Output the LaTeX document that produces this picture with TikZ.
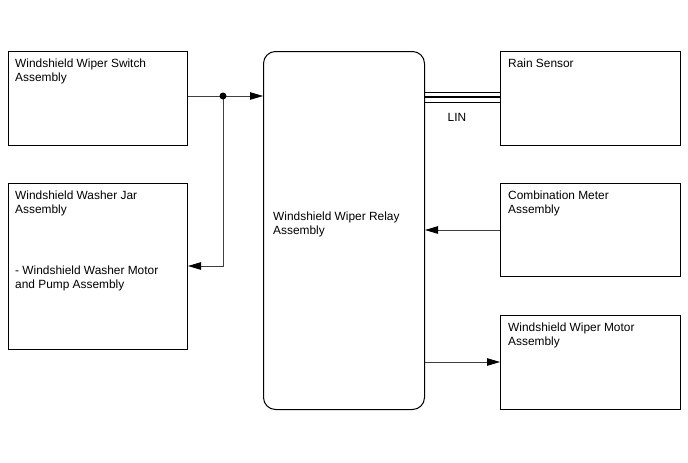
\documentclass[tikz,border=0pt]{standalone}
\usepackage{fontspec}
\setmainfont{Liberation Sans}
\usetikzlibrary{arrows.meta}
\begin{document}
\begin{tikzpicture}[x=1pt,y=-1pt,
  box/.style={draw=black,line width=1pt,inner sep=0pt,anchor=north west},
  txt/.style={anchor=base west,inner sep=0pt,font=\fontsize{11.9}{14}\selectfont},
  conn/.style={line width=0.8pt,draw=black!75},
  arr/.style={conn,-{Triangle[length=13pt,width=7.5pt,color=black]}}]
\useasboundingbox (0,0) rectangle (688,463);
% boxes
\node[box,minimum width=179pt,minimum height=94pt] (sw) at (8,51) {};
\node[box,minimum width=179pt,minimum height=166pt] (jar) at (8,183) {};
\node[box,rounded corners=12pt,minimum width=161pt,minimum height=358pt] (relay) at (263,51) {};
\node[box,minimum width=180pt,minimum height=94pt] (rain) at (500,51) {};
\node[box,minimum width=180pt,minimum height=93pt] (meter) at (500,183) {};
\node[box,minimum width=180pt,minimum height=94pt] (motor) at (500,315) {};
% texts
\node[txt] (t1) at (15,67.5) {Windshield Wiper Switch};
\node[txt] (t2) at (15,81.5) {Assembly};
\node[txt] (t3) at (15,199) {Windshield Washer Jar};
\node[txt] (t4) at (15,213) {Assembly};
\node[txt] (t5) at (15,274) {- Windshield Washer Motor};
\node[txt] (t6) at (15,288) {and Pump Assembly};
\node[txt] (t7) at (273,220) {Windshield Wiper Relay};
\node[txt] (t8) at (273,234) {Assembly};
\node[txt] (t9) at (508,67.5) {Rain Sensor};
\node[txt] (t10) at (508,199) {Combination Meter};
\node[txt] (t11) at (508,213) {Assembly};
\node[txt] (t12) at (508,331) {Windshield Wiper Motor};
\node[txt] (t13) at (508,345) {Assembly};
\node[txt,anchor=base] (lin) at (457,121) {LIN};
% connectors
\coordinate (j) at (223,96);
\draw[arr] (sw.east |- j) -- (relay.west |- j);
\draw[arr] (j) |- (jar.east |- 0,266);
\fill (j) circle (3.5pt);
\draw[line width=1pt] (relay.east |- 0,92) -- (rain.west |- 0,92);
\draw[line width=2.8pt] (relay.east |- 0,97) -- (rain.west |- 0,97);
\draw[line width=1pt] (relay.east |- 0,102) -- (rain.west |- 0,102);
\draw[arr] (meter.west |- 0,230) -- (relay.east |- 0,230);
\draw[arr] (relay.east |- 0,362) -- (motor.west |- 0,362);
\end{tikzpicture}
\end{document}
